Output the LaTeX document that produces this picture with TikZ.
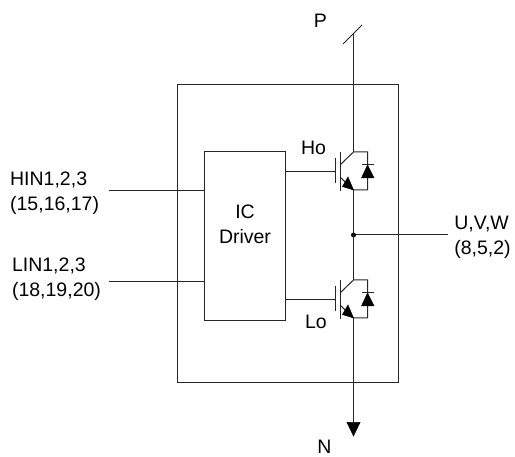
\documentclass[tikz,border=0pt]{standalone}
\usepackage{fontspec}
\setmainfont{Liberation Sans}
\tikzset{every node/.style={inner sep=0pt,font=\fontsize{19.5}{25}\selectfont,align=center},
  pinlabel/.style={align=left},
  wire/.style={line width=1pt,black!85},
  solid part/.style={fill=black,draw=black,line width=0.5pt,line join=miter},
  box/.style={draw,line width=1pt,black!85,text=black}}

\begin{document}
\begin{tikzpicture}[x=1pt,y=-1pt]
      \useasboundingbox (0,0) rectangle (515,457);
      \node[box,minimum width=221pt,minimum height=298pt] (module) at (287.5,234) {};
      \node[box,minimum width=81pt,minimum height=169pt] (driver) at (244.5,236.5) {};
      \node (ic) at (245,224) {IC\\Driver};
      \node[pinlabel] (hin) at (54.6,193.5) {HIN1,2,3\\(15,16,17)};
      \node[pinlabel] (lin) at (56.5,279.7) {LIN1,2,3\\(18,19,20)};
      \node[pinlabel] (uvw) at (482.5,237.5) {U,V,W\\(8,5,2)};
      \node (P) at (320.5,20.5) {P};
      \node (N) at (324.5,447) {N};
      \node (Ho) at (313.5,147.5) {Ho};
      \node (Lo) at (316,322) {Lo};

      \coordinate (hinend) at (109,190.5);
      \coordinate (linend) at (109,281.7);
      \coordinate (hindrv) at (204,190.5);
      \coordinate (lindrv) at (204,281.7);
      \coordinate (uvwend) at (448,235);
      \coordinate (mid) at (353.5,235);
      \coordinate (ptop) at (353.5,34);
      \coordinate (nend) at (353.5,424);
      \coordinate (slasha) at (343,44);
      \coordinate (slashb) at (362,25);

      \draw[wire] (hinend) -- (hindrv);
      \draw[wire] (linend) -- (lindrv);
      \draw[wire] (slasha) -- (slashb);
      \draw[wire] (mid) -- (uvwend);
      \fill (mid) circle (2.5pt);

\foreach \t/\y in {hi/172,lo/300} {
      \coordinate (\t gd) at (285,\y);
      \coordinate (\t gate) at (335,\y);
      \coordinate (\t c) at (353.5,\y-20);
      \coordinate (\t e) at (353.5,\y+18);
      \coordinate (\t dc) at (367.5,\y-20);
      \coordinate (\t de) at (367.5,\y+18);
      \draw[wire] (\t gd) -- (\t gate);
      \draw[wire] (335,\y-14) -- (335,\y+11);
      \draw[wire] (340,\y-20) -- (340,\y+19);
      \draw[wire] (340,\y-7) -- (\t c) -- (\t dc) -- (\t de) -- (\t e) -- (340,\y+5);
      \draw[solid part] (\t e) -- (348,\y+5) -- (342.5,\y+14.5) -- cycle;
      \draw[solid part] (367.5,\y-7) -- (374,\y+6) -- (361.5,\y+6) -- cycle;
      \draw[wire] (361.5,\y-7) -- (373.5,\y-7);
}
      \draw[wire] (ptop) -- (hic);
      \draw[wire] (hie) -- (mid) -- (loc);
      \draw[wire] (loe) -- (nend);
      \draw[solid part] (353.5,436) -- (347,422.5) -- (360,422.5) -- cycle;
\end{tikzpicture}
\end{document}
